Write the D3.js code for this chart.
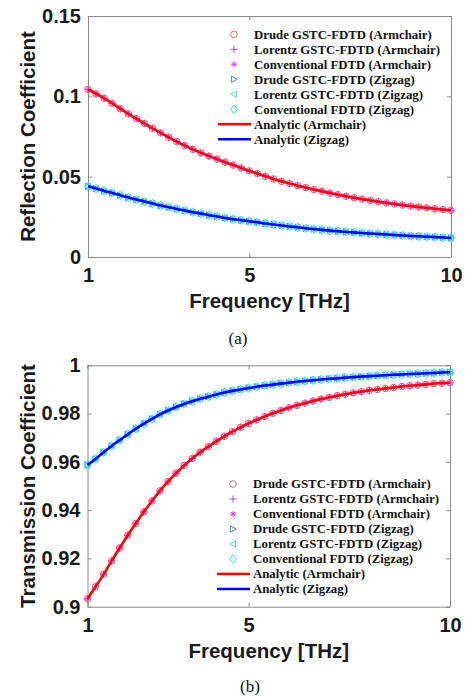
<!DOCTYPE html>
<html>
<head>
<meta charset="utf-8">
<script src="https://cdn.jsdelivr.net/npm/d3@7"></script>
<style>
  html, body { margin: 0; padding: 0; background: #fff; }
  svg { display: block; }
  .tick text { font-family: "Liberation Sans", Arial, sans-serif; font-weight: bold; font-size: 20px; fill: #1a1a1a; }
  .axis-title { font-family: "Liberation Sans", Arial, sans-serif; font-weight: bold; font-size: 20.5px; fill: #1a1a1a; }
  .legend-text { font-family: "Liberation Serif", "Times New Roman", serif; font-weight: bold; font-size: 12.8px; fill: #111; }
  .caption { font-family: "Liberation Serif", "Times New Roman", serif; font-size: 17px; fill: #111; }
</style>
</head>
<body>
<svg id="chart" width="466" height="699"></svg>
<script>
// ── DATA ─────────────────────────────────────────────────────────────────────
const freq = [1.0, 1.2, 1.4, 1.6, 1.8, 2.0, 2.2, 2.4, 2.6, 2.8, 3.0, 3.2, 3.4, 3.6, 3.8,
  4.0, 4.2, 4.4, 4.6, 4.8, 5.0, 5.2, 5.4, 5.6, 5.8, 6.0, 6.2, 6.4, 6.6, 6.8, 7.0,
  7.2, 7.4, 7.6, 7.8, 8.0, 8.2, 8.4, 8.6, 8.8, 9.0, 9.2, 9.4, 9.6, 9.8, 10.0];

const reflArmchair = [0.1043, 0.1016, 0.0988, 0.0957, 0.0923, 0.0891, 0.0861, 0.0831, 0.0801, 0.0773,
  0.0745, 0.0718, 0.0693, 0.0670, 0.0648, 0.0628, 0.0609, 0.0590, 0.0572, 0.0554,
  0.0536, 0.0519, 0.0502, 0.0486, 0.0471, 0.0457, 0.0444, 0.0432, 0.0420, 0.0409,
  0.0398, 0.0388, 0.0378, 0.0369, 0.0360, 0.0352, 0.0344, 0.0337, 0.0330, 0.0323,
  0.0317, 0.0311, 0.0306, 0.0300, 0.0295, 0.0291];

const reflZigzag = [0.0440, 0.0426, 0.0411, 0.0399, 0.0385, 0.0370, 0.0358, 0.0345, 0.0333, 0.0320,
  0.0310, 0.0299, 0.0289, 0.0279, 0.0270, 0.0260, 0.0252, 0.0243, 0.0235, 0.0229,
  0.0222, 0.0216, 0.0208, 0.0202, 0.0196, 0.0190, 0.0185, 0.0179, 0.0174, 0.0169,
  0.0164, 0.0160, 0.0156, 0.0153, 0.0149, 0.0146, 0.0143, 0.0140, 0.0137, 0.0134,
  0.0131, 0.0129, 0.0126, 0.0124, 0.0121, 0.0119];

const transArmchair = [0.9032, 0.9083, 0.9134, 0.9190, 0.9243, 0.9296, 0.9345, 0.9393, 0.9438, 0.9480,
  0.9518, 0.9553, 0.9585, 0.9614, 0.9640, 0.9663, 0.9685, 0.9706, 0.9725, 0.9743,
  0.9759, 0.9774, 0.9788, 0.9801, 0.9813, 0.9824, 0.9834, 0.9843, 0.9852, 0.9860,
  0.9867, 0.9874, 0.9880, 0.9886, 0.9891, 0.9896, 0.9900, 0.9904, 0.9908, 0.9912,
  0.9915, 0.9918, 0.9921, 0.9924, 0.9926, 0.9928];

const transZigzag = [0.9587, 0.9612, 0.9640, 0.9666, 0.9690, 0.9714, 0.9737, 0.9758, 0.9778, 0.9797,
  0.9813, 0.9827, 0.9840, 0.9851, 0.9861, 0.9870, 0.9879, 0.9887, 0.9894, 0.9900,
  0.9906, 0.9911, 0.9916, 0.9920, 0.9924, 0.9928, 0.9932, 0.9935, 0.9938, 0.9941,
  0.9944, 0.9946, 0.9949, 0.9951, 0.9953, 0.9955, 0.9957, 0.9959, 0.9961, 0.9962,
  0.9964, 0.9965, 0.9967, 0.9968, 0.9970, 0.9971];

const freqTicks = [1, 5, 10];
const reflTicks = [0, 0.05, 0.1, 0.15];
const transTicks = [0.9, 0.92, 0.94, 0.96, 0.98, 1];

const legendLabels = [
  'Drude GSTC-FDTD (Armchair)',
  'Lorentz GSTC-FDTD (Armchair)',
  'Conventional FDTD (Armchair)',
  'Drude GSTC-FDTD (Zigzag)',
  'Lorentz GSTC-FDTD (Zigzag)',
  'Conventional FDTD (Zigzag)',
  'Analytic (Armchair)',
  'Analytic (Zigzag)'
];

// ── MARKERS ──────────────────────────────────────────────────────────────────
const markerPaths = {
  circle: 'M3.3,0A3.3,3.3 0 1,1 -3.3,0A3.3,3.3 0 1,1 3.3,0Z',
  plus: 'M-3.5,0L3.5,0M0,-3.5L0,3.5',
  star: 'M-3,0L3,0M0,-3L0,3M-2.2,-2.2L2.2,2.2M-2.2,2.2L2.2,-2.2',
  triRight: 'M-2.6,-3.2L3.2,0L-2.6,3.2Z',
  triLeft: 'M2.6,-3.2L-3.2,0L2.6,3.2Z',
  diamond: 'M0,-4.3L3.5,0L0,4.3L-3.5,0Z'
};
const markerSet = [
  { shape: 'circle',   color: '#E0706A', group: 'arm' },
  { shape: 'plus',     color: '#A35AB5', group: 'arm' },
  { shape: 'star',     color: '#FF33FF', group: 'arm' },
  { shape: 'triRight', color: '#3A8FCC', group: 'zig' },
  { shape: 'triLeft',  color: '#6CCBEF', group: 'zig' },
  { shape: 'diamond',  color: '#1BE3F5', group: 'zig' }
];
const lineSet = [
  { color: '#FF0000', group: 'arm' },
  { color: '#0000FF', group: 'zig' }
];

// ── SETUP ────────────────────────────────────────────────────────────────────
const svg = d3.select('#chart');
const AXIS_COLOR = '#8a8a8a';

function drawPanel(cfg) {
  const x = d3.scaleLinear().domain([1, 10]).range([cfg.left, cfg.right]);
  const y = d3.scaleLinear().domain(cfg.yDomain).range([cfg.bottom, cfg.top]);
  const g = svg.append('g');

  const series = { arm: cfg.arm, zig: cfg.zig };

  // axes (box with inward ticks on all sides)
  g.append('g').attr('transform', `translate(0,${cfg.bottom})`)
    .call(d3.axisBottom(x).tickValues(freqTicks).tickFormat(d => String(d))
      .tickSizeInner(-4).tickSizeOuter(0).tickPadding(11));
  g.append('g').attr('transform', `translate(0,${cfg.top})`)
    .call(d3.axisTop(x).tickValues(freqTicks).tickFormat('')
      .tickSizeInner(-4).tickSizeOuter(0));
  g.append('g').attr('transform', `translate(${cfg.left},0)`)
    .call(d3.axisLeft(y).tickValues(cfg.yTicks).tickFormat(d => String(d))
      .tickSizeInner(-4).tickSizeOuter(0).tickPadding(7));
  g.append('g').attr('transform', `translate(${cfg.right},0)`)
    .call(d3.axisRight(y).tickValues(cfg.yTicks).tickFormat('')
      .tickSizeInner(-4).tickSizeOuter(0));
  g.selectAll('.domain, .tick line').attr('stroke', AXIS_COLOR).attr('stroke-width', 1);

  // markers (drawn under the analytic lines)
  markerSet.forEach(m => {
    g.append('g').selectAll('path')
      .data(freq.map((f, i) => [f, series[m.group][i]]))
      .join('path')
      .attr('transform', d => `translate(${x(d[0])},${y(d[1])})`)
      .attr('d', markerPaths[m.shape])
      .attr('fill', 'none')
      .attr('stroke', m.color)
      .attr('stroke-width', 1);
  });

  // analytic lines
  const line = d3.line().x(d => x(d[0])).y(d => y(d[1])).curve(d3.curveMonotoneX);
  lineSet.forEach(l => {
    g.append('path')
      .datum(freq.map((f, i) => [f, series[l.group][i]]))
      .attr('d', line)
      .attr('fill', 'none')
      .attr('stroke', l.color)
      .attr('stroke-width', 2.6);
  });

  // axis titles
  g.append('text').attr('class', 'axis-title')
    .attr('x', (cfg.left + cfg.right) / 2).attr('y', cfg.xTitleY)
    .attr('text-anchor', 'middle')
    .text('Frequency [THz]');
  g.append('text').attr('class', 'axis-title')
    .attr('transform', `translate(${cfg.yTitleX},${(cfg.top + cfg.bottom) / 2}) rotate(-90)`)
    .attr('text-anchor', 'middle')
    .text(cfg.yTitle);

  // legend (no box)
  const lg = g.append('g').attr('transform', `translate(${cfg.legX},${cfg.legY})`);
  legendLabels.forEach((label, i) => {
    const row = lg.append('g').attr('transform', `translate(0,${i * 15})`);
    if (i < markerSet.length) {
      const m = markerSet[i];
      row.append('path').attr('d', markerPaths[m.shape])
        .attr('fill', 'none').attr('stroke', m.color).attr('stroke-width', 1);
    } else {
      row.append('line').attr('x1', -16).attr('x2', 17).attr('y1', 0).attr('y2', 0)
        .attr('stroke', lineSet[i - markerSet.length].color).attr('stroke-width', 2.6);
    }
    row.append('text').attr('class', 'legend-text')
      .attr('x', 20).attr('dy', '0.35em')
      .text(label);
  });

  // caption
  svg.append('text').attr('class', 'caption')
    .attr('x', cfg.capX).attr('y', cfg.capY)
    .attr('text-anchor', 'middle')
    .text(cfg.caption);
}

drawPanel({
  left: 88, right: 451, top: 16, bottom: 257,
  yDomain: [0, 0.15], yTicks: reflTicks,
  arm: reflArmchair, zig: reflZigzag,
  yTitle: 'Reflection Coefficient', yTitleX: 35, xTitleY: 308,
  legX: 234, legY: 34.3,
  caption: '(a)', capX: 238, capY: 344
});

drawPanel({
  left: 87.5, right: 450, top: 365.3, bottom: 606.7,
  yDomain: [0.9, 1], yTicks: transTicks,
  arm: transArmchair, zig: transZigzag,
  yTitle: 'Transmission Coefficient', yTitleX: 34.5, xTitleY: 658,
  legX: 233, legY: 484,
  caption: '(b)', capX: 250, capY: 692
});
</script>
</body>
</html>
